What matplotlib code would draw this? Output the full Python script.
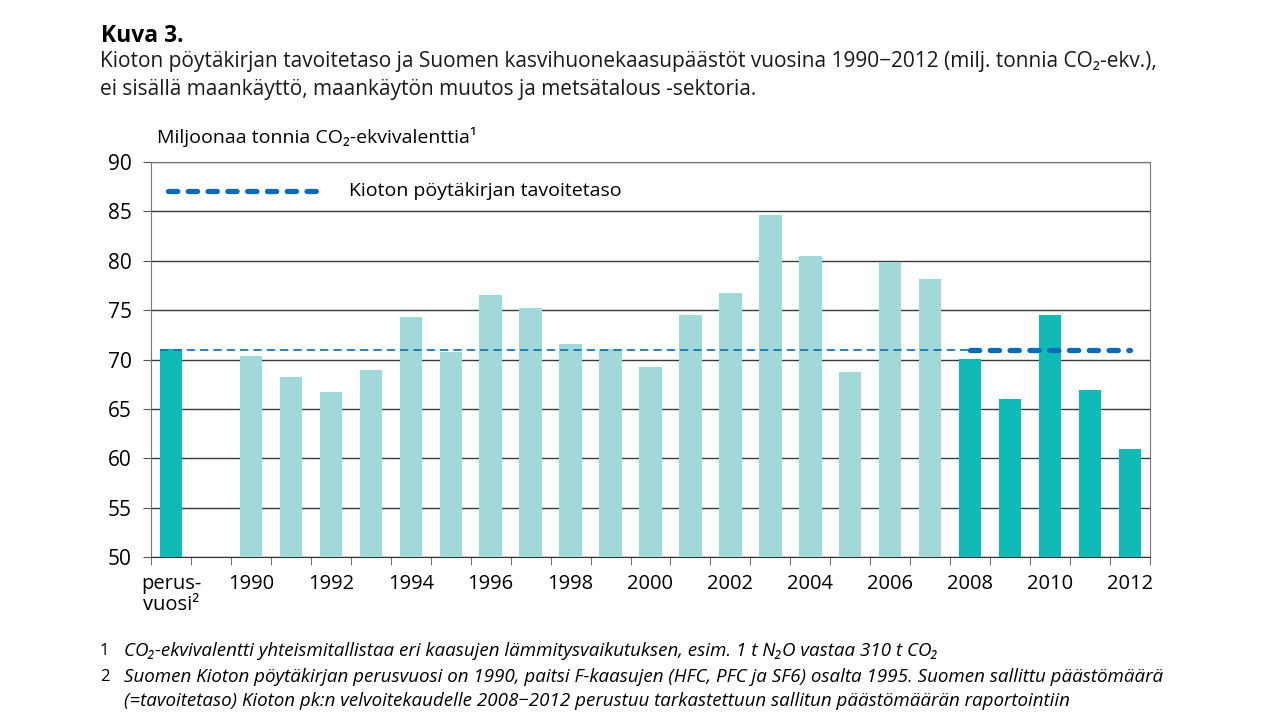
import numpy as np
import matplotlib
matplotlib.use("Agg")
import matplotlib.pyplot as plt

# ------------------------------------------------------------
# Data (milj. tonnia CO2-ekv.)
# ------------------------------------------------------------
base_label = "perus-\nvuosi\u00b2"
base_value = 71.1
years = list(range(1990, 2013))
emissions = [70.4, 68.2, 66.7, 68.9, 74.3, 70.8, 76.5, 75.2, 71.6, 71.1,
             69.2, 74.5, 76.7, 84.6, 80.5, 68.7, 79.9, 78.2,
             70.1, 66.0, 74.5, 66.9, 60.9]
target = 71.0
period_start = 2008

font = ["Open Sans", "DejaVu Sans"]

light = "#a0d9d8"
dark = "#0fbab7"
blue = "#0a6cb9"

fig = plt.figure(figsize=(12.8, 7.2), dpi=100)
ax = fig.add_axes([151 / 1280, 1 - 557 / 720, 999 / 1280, 395 / 720])

# slot 0 = perusvuosi, slot 1 tyhjä, vuodet alkaen slotista 2
pos = [0] + [i + 2 for i in range(len(years))]
vals = [base_value] + emissions
cols = [dark] + [dark if y >= period_start else light for y in years]
ax.bar(pos, [v - 50 for v in vals], bottom=50, width=0.56, color=cols, zorder=3)

# tavoitetaso
i_start = years.index(period_start) + 2
ax.plot([-0.28, i_start], [target, target], color=blue, lw=1.2,
        dashes=(5, 3), zorder=4)
ax.plot([i_start, pos[-1]], [target, target], color=blue, lw=3.8,
        dashes=(1.75, 2.0), dash_capstyle="round", zorder=5)

ax.set_xlim(-0.5, 24.5)
ax.set_ylim(50, 90)
ax.set_yticks(range(50, 91, 5))
ax.grid(axis="y", color="#3a3a3a", lw=1.0, zorder=1)

xt = [0] + [i + 2 for i, y in enumerate(years) if y % 2 == 0]
xl = [base_label] + [str(y) for y in years if y % 2 == 0]
ax.set_xticks(xt)
ax.set_xticklabels(xl, fontsize=14.5, family=font, linespacing=1.1)
ax.set_xticks(np.arange(-0.5, 25, 1), minor=True)
ax.tick_params(axis="x", which="major", length=0, pad=12)
ax.tick_params(axis="x", which="minor", length=6, color="#555555")
ax.tick_params(axis="y", length=6, color="#555555", pad=8)
for lab in ax.get_yticklabels():
    lab.set_fontsize(15)
    lab.set_family(font)

for s in ["left", "right", "top"]:
    ax.spines[s].set_color("#777777")
ax.spines["bottom"].set_color("#333333")

# selite
ax.plot([0.017, 0.175], [0.9266, 0.9266], transform=ax.transAxes, color=blue,
        lw=3.8, dashes=(1.75, 2.0), dash_capstyle="round", zorder=5)
ax.text(0.198, 0.9266, "Kioton pöytäkirjan tavoitetaso", transform=ax.transAxes,
        fontsize=14, family=font, va="center")

# otsikot
fig.text(101 / 1280, 1 - 36 / 720, "Kuva 3.", fontsize=16.5, weight="bold",
         family=font, va="center")
fig.text(100 / 1280, 1 - 62 / 720,
         "Kioton pöytäkirjan tavoitetaso ja Suomen kasvihuonekaasupäästöt vuosina "
         "1990\u22122012 (milj. tonnia CO\u2082-ekv.),",
         fontsize=15, family=font, va="center", color="#1a1a1a")
fig.text(100 / 1280, 1 - 90 / 720,
         "ei sisällä maankäyttö, maankäytön muutos ja metsätalous -sektoria.",
         fontsize=15, family=font, va="center", color="#1a1a1a")
fig.text(157 / 1280, 1 - 137 / 720, "Miljoonaa tonnia CO\u2082-ekvivalenttia\u00b9",
         fontsize=14, family=font, va="center")

# alaviitteet
fn = dict(fontsize=13.5, family=font, style="italic", va="center")
fig.text(100 / 1280, 1 - 651 / 720, "1", fontsize=12, family=font, va="center")
fig.text(124 / 1280, 1 - 651 / 720,
         "CO\u2082-ekvivalentti yhteismitallistaa eri kaasujen lämmitysvaikutuksen, "
         "esim. 1 t N\u2082O vastaa 310 t CO\u2082", **fn)
fig.text(100 / 1280, 1 - 677 / 720, "2", fontsize=12, family=font, va="center")
fig.text(124 / 1280, 1 - 677 / 720,
         "Suomen Kioton pöytäkirjan perusvuosi on 1990, paitsi F-kaasujen (HFC, PFC ja SF6) "
         "osalta 1995. Suomen sallittu päästömäärä", **fn)
fig.text(124 / 1280, 1 - 701 / 720,
         "(=tavoitetaso) Kioton pk:n velvoitekaudelle 2008\u22122012 perustuu "
         "tarkastettuun sallitun päästömäärän raportointiin", **fn)

fig.savefig("out.png", dpi=100)
